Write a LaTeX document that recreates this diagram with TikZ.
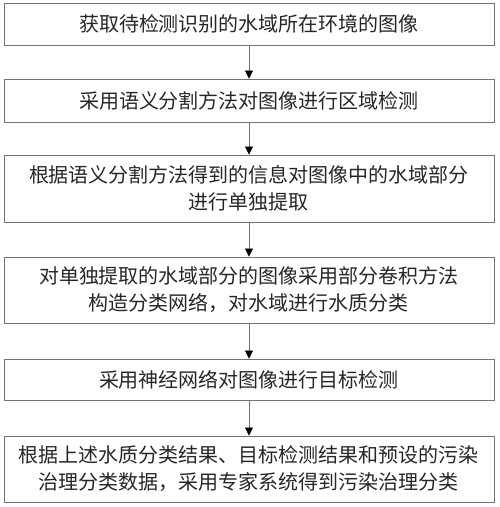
\documentclass[tikz,border=0pt]{standalone}
\usepackage{fontspec}
\setmainfont{Noto Sans CJK SC}
\usepackage{tikz}
\usetikzlibrary{arrows.meta}

\tikzset{
  stepbox/.style={draw=black!55, line width=0.9pt, minimum width=490pt, align=center,
    inner sep=2pt, font=\fontsize{20pt}{27pt}\selectfont, text=black!85},
  flow/.style={draw=black!55, line width=0.7pt, -{Triangle[length=8pt,width=8pt,color=black]}}
}

\begin{document}
\begin{tikzpicture}[x=1pt,y=1pt]
                % Frame
                \useasboundingbox (0,0) rectangle (500,-507);
                
                % Steps
                \node[stepbox, minimum height=42pt] (acquire) at (249,-24) {获取待检测识别的水域所在环境的图像};
                \node[stepbox, minimum height=43pt] (segment) at (249,-100.5) {采用语义分割方法对图像进行区域检测};
                \node[stepbox, minimum height=67pt] (extract) at (249,-188.5) {根据语义分割方法得到的信息对图像中的水域部分\\进行单独提取};
                \node[stepbox, minimum height=66pt] (classify) at (249,-290) {对单独提取的水域部分的图像采用部分卷积方法\\构造分类网络，对水域进行水质分类};
                \node[stepbox, minimum height=41pt] (detect) at (249,-379.5) {采用神经网络对图像进行目标检测};
                \node[stepbox, minimum height=66pt] (treat) at (249,-469) {根据上述水质分类结果、目标检测结果和预设的污染\\治理分类数据，采用专家系统得到污染治理分类};
                
                % Arrows
                \draw[flow] (acquire) -- (segment);
                \draw[flow] (segment) -- (extract);
                \draw[flow] (extract) -- (classify);
                \draw[flow] (classify) -- (detect);
                \draw[flow] (detect) -- (treat);
            \end{tikzpicture}
\end{document}
